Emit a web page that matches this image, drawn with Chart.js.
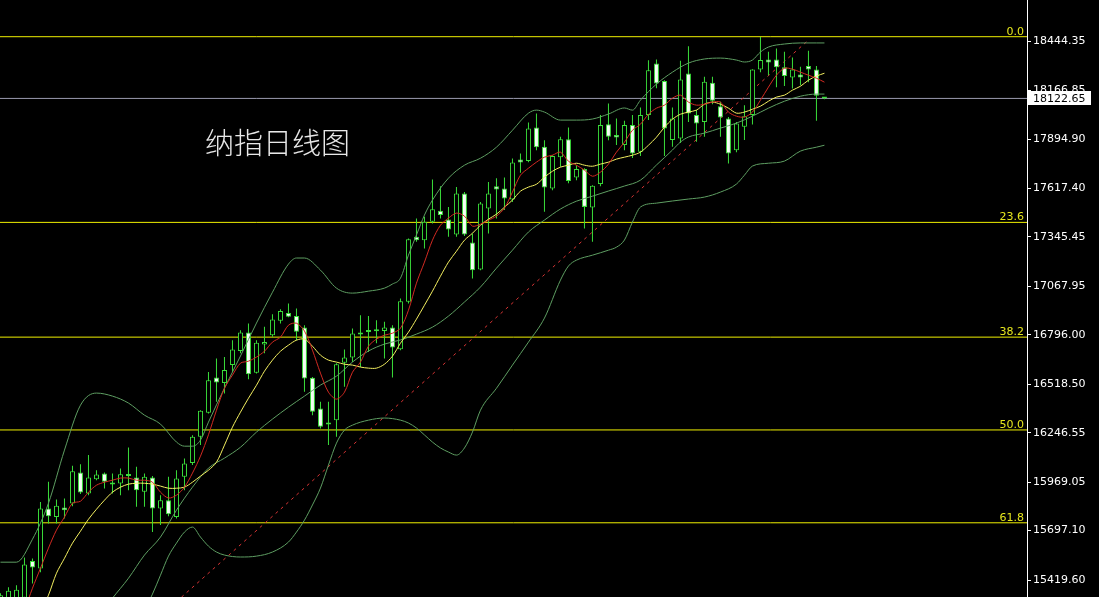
<!DOCTYPE html>
<html>
<head>
<meta charset="utf-8">
<script src="https://cdn.jsdelivr.net/npm/chart.js@4.4.1/dist/chart.umd.min.js"></script>
<style>
  html, body { margin: 0; padding: 0; background: #000; }
  #wrap { width: 1099px; height: 597px; }
</style>
</head>
<body>
<div id="wrap"><canvas id="nq" width="1099" height="597"></canvas></div>
<script>
// daily candles, index 0 = leftmost bar
var openP = [15300,15290,15300,15320,15527,15485,15821,15774,15827,15850,
  16023,15906,15986,16018,15956,15962,16003,15995,15915,15995,
  15821,15868,15774,15999,16076,16224,16358,16557,16526,16626,
  16705,16809,16583,16742,16794,16875,16919,16901,16837,16555,
  16383,16304,16317,16639,16669,16809,16812,16822,16818,16837,
  16715,16981,17346,17327,17430,17492,17443,17359,17589,17314,
  17163,17505,17630,17617,17556,17780,17772,17960,17851,17617,
  17792,17893,17679,17726,17511,17642,17978,17917,17861,17973,
  17823,18029,18319,18220,17889,17898,18263,18029,17991,18210,
  18079,18010,17832,17963,18029,18285,18341,18341,18297,18240,
  18257,18304,18285,18127];
var highP = [15345,15380,15390,15546,15541,15858,15971,15872,15878,16061,
  16070,16121,16036,16023,16018,16046,16164,16055,16018,16003,
  15896,15999,16036,16102,16233,16373,16588,16663,16672,16766,
  16822,16860,16766,16841,16912,16939,16972,16944,16850,16559,
  16420,16420,16636,16714,16832,16906,16901,16878,16869,16850,
  17000,17337,17449,17458,17668,17630,17514,17626,17597,17365,
  17542,17653,17674,17679,17786,17814,17988,18038,17888,17804,
  17907,17960,17748,17731,17636,18029,18094,18010,17997,18029,
  18072,18337,18341,18225,18072,18334,18416,18057,18244,18244,
  18104,18018,17991,18085,18287,18468,18384,18403,18384,18353,
  18300,18390,18304,18130];
var lowP = [15240,15250,15280,15300,15401,15464,15737,15737,15765,15834,
  15902,15896,15980,15934,15906,15896,15924,15831,15831,15690,
  15728,15778,15765,15924,16065,16177,16355,16420,16467,16588,
  16692,16546,16579,16692,16785,16860,16895,16766,16476,16345,
  16270,16177,16224,16504,16644,16616,16700,16748,16663,16557,
  16710,16972,17318,17281,17421,17449,17346,17346,17350,17112,
  17159,17365,17449,17496,17542,17705,17765,17832,17486,17608,
  17739,17647,17664,17393,17318,17630,17888,17861,17832,17788,
  17799,18001,18180,17799,17851,17872,17991,17879,17907,18090,
  17907,17758,17821,17889,17977,18270,18253,18186,18192,18179,
  18197,18214,17997,18118];
var closeP = [15335,15360,15365,15507,15490,15821,15778,15836,15812,16031,
  15911,15995,16012,15971,15962,16014,16008,15924,15999,15821,
  15868,15789,15990,16074,16224,16370,16541,16529,16598,16714,
  16809,16574,16751,16756,16882,16929,16897,16813,16551,16364,
  16280,16293,16631,16669,16804,16798,16818,16816,16837,16725,
  16985,17333,17327,17430,17500,17468,17387,17589,17359,17159,
  17533,17589,17612,17561,17763,17763,17954,17848,17623,17799,
  17893,17659,17726,17514,17632,17973,17907,17904,17973,17814,
  18029,18281,18207,17954,18010,18229,18038,17982,18216,18109,
  18016,17814,17982,18023,18285,18338,18324,18297,18248,18285,
  18240,18285,18137,18122.65];

// moving averages (one value per bar)
var redMA = [null,null,null,15250,15374,15486,15599,15700,15773,15851,
  15862,15913,15952,15969,15980,15992,15992,15980,15980,15969,
  15913,15880,15896,15941,16020,16115,16235,16373,16496,16570,
  16637,16648,16671,16704,16755,16783,16850,16861,16817,16710,
  16581,16474,16435,16474,16586,16643,16732,16772,16794,16805,
  16833,16934,17086,17204,17327,17411,17451,17479,17462,17406,
  17417,17439,17462,17507,17597,17692,17731,17765,17793,17804,
  17821,17770,17748,17720,17686,17709,17754,17821,17877,17944,
  17978,18034,18068,18085,18124,18141,18102,18085,18090,18102,
  18102,18046,18023,18018,18046,18113,18186,18253,18292,18287,
  18270,18253,18236,18214];
var yellowMA = [null,null,null,null,null,15240,15335,15458,15542,15627,
  15694,15761,15817,15868,15913,15941,15958,15963,15963,15958,
  15947,15935,15935,15941,15969,16003,16036,16081,16177,16278,
  16362,16440,16513,16592,16654,16704,16738,16766,16772,16732,
  16682,16654,16643,16631,16626,16615,16609,16609,16631,16676,
  16749,16811,16884,16962,17041,17125,17204,17265,17327,17366,
  17411,17445,17473,17512,17552,17602,17625,17641,17681,17714,
  17737,17748,17759,17748,17742,17754,17765,17782,17793,17804,
  17821,17860,17905,17961,18006,18034,18046,18057,18090,18102,
  18090,18068,18040,18046,18062,18079,18107,18130,18141,18169,
  18191,18225,18248,18264];

// bollinger bands, read at these bar indices
var upperIdx = [0,2,4,6,8,10,12,14,16,18,20,22,23,24,25,26,28,30,32,34,
  36,37,38,40,42,44,46,48,49,50,51,52,53,54,56,58,60,62,64,66,
  67,68,70,72,74,76,78,79,80,82,84,86,88,90,92,93,94,95,96,98,100,102,103];
var upperVal = [15520,15520,15649,15851,16149,16401,16469,16452,16413,16345,
  16295,16194,16171,16171,16205,16306,16497,16677,16862,17035,
  17193,17227,17227,17159,17058,17030,17041,17058,17081,17114,
  17243,17356,17468,17552,17675,17748,17787,17849,17944,18040,
  18057,18046,18001,18001,18007,18035,18069,18057,18113,18203,
  18270,18321,18344,18349,18338,18327,18338,18383,18411,18428,18434,18434,18434];
var middleIdx = [12,14,16,18,20,22,24,26,28,30,32,34,36,38,40,42,44,46,48,50,
  52,54,56,58,60,62,64,66,68,70,72,74,76,78,80,82,84,85,86,88,90,92,94,96,98,100,102,103];
var middleVal = [15200,15318,15430,15560,15661,15812,15941,16048,16104,16165,
  16250,16323,16390,16452,16514,16564,16643,16705,16744,16767,
  16800,16839,16901,16980,17064,17170,17271,17373,17440,17502,
  17546,17574,17603,17631,17664,17749,17833,17878,17906,17928,
  17956,17984,18023,18068,18107,18135,18147,18147];
var lowerIdx = [16,18,19,20,21,22,23,24,25,26,27,28,30,32,34,36,37,38,39,40,
  41,42,43,44,46,48,50,51,52,53,54,55,56,57,58,59,60,62,64,66,
  68,70,71,72,74,76,77,78,79,80,82,84,86,88,90,92,93,94,96,98,100,102,103];
var lowerVal = [15100,15251,15341,15447,15554,15627,15689,15717,15661,15610,
  15577,15560,15549,15554,15577,15633,15689,15756,15841,15936,
  16065,16188,16261,16289,16317,16329,16317,16301,16273,16234,
  16194,16161,16138,16121,16161,16250,16373,16496,16626,16755,
  16890,17103,17182,17215,17243,17271,17288,17328,17429,17513,
  17535,17547,17558,17569,17597,17642,17692,17743,17759,17771,17827,17849,17860];

var fibNames = ['0.0', '23.6', '38.2', '50.0', '61.8'];
var fibPrices = [18469, 17427, 16783, 16262, 15741];
var trendIdx = [20, 101];
var trendVal = [15219, 18450];
var lastPrice = 18122.65;
var yTicks = [18444.35, 18166.85, 17894.90, 17617.40, 17345.45, 17067.95,
  16796.00, 16518.50, 16246.55, 15969.05, 15697.10, 15419.60];
var chartTitle = '纳指日线图';

var GREEN = '#3ade3a';
var BAND = '#5e9e62';
var X_MIN = -0.06, X_MAX = 128.32;

function pts(idx, vals) {
  return idx.map(function(x, k) { return { x: x, y: vals[k] }; });
}
function perBar(vals) {
  var out = [];
  vals.forEach(function(v, i) { if (v !== null) out.push({ x: i, y: v }); });
  return out;
}
function band(data, order) {
  return { type: 'line', data: data, borderColor: BAND, borderWidth: 1, pointRadius: 0,
    cubicInterpolationMode: 'monotone', order: order };
}

var datasets = [
  { type: 'line', data: perBar(redMA), borderColor: '#d22a22', borderWidth: 1, pointRadius: 0, tension: 0.3, order: 0 },
  { type: 'line', data: perBar(yellowMA), borderColor: '#f4f060', borderWidth: 1, pointRadius: 0, tension: 0.3, order: 1 },
  band(pts(upperIdx, upperVal), 2),
  band(pts(middleIdx, middleVal), 2),
  band(pts(lowerIdx, lowerVal), 2),
  { type: 'bar',
    data: openP.map(function(o, i) { return { x: i, y: [o, closeP[i]] }; }),
    backgroundColor: openP.map(function(o, i) { return closeP[i] >= o ? '#000000' : '#f4fff4'; }),
    borderColor: GREEN, borderWidth: 1, borderSkipped: false, inflateAmount: 0,
    barThickness: 5, minBarLength: 2, grouped: false, order: 3 },
  { type: 'bar',
    data: highP.map(function(h, i) { return { x: i, y: [lowP[i], h] }; }),
    backgroundColor: GREEN, borderWidth: 0, inflateAmount: 0,
    barThickness: 1, grouped: false, order: 4 },
  { type: 'line', data: pts(trendIdx, trendVal), borderColor: '#d83434', borderWidth: 1,
    borderDash: [3, 4], pointRadius: 0, order: 5 },
  { type: 'line', data: [{ x: X_MIN, y: lastPrice }, { x: X_MAX, y: lastPrice }],
    borderColor: '#9a9aae', borderWidth: 1, pointRadius: 0, order: 6 }
];
fibPrices.forEach(function(p) {
  datasets.push({ type: 'line', data: [{ x: X_MIN, y: p }, { x: X_MAX, y: p }],
    borderColor: '#f0f000', borderWidth: 1, pointRadius: 0, order: 6 });
});

var overlay = {
  id: 'overlay',
  beforeDraw: function(c) {
    var ctx = c.ctx;
    ctx.save();
    ctx.fillStyle = '#000';
    ctx.fillRect(0, 0, c.width, c.height);
    ctx.restore();
  },
  afterDraw: function(c) {
    var ctx = c.ctx, ys = c.scales.y, area = c.chartArea;
    ctx.save();
    ctx.font = '11px "DejaVu Sans"';
    ctx.fillStyle = '#e6e61e';
    ctx.textAlign = 'right';
    ctx.textBaseline = 'alphabetic';
    fibPrices.forEach(function(p, k) {
      ctx.fillText(fibNames[k], area.right - 3, Math.round(ys.getPixelForValue(p)) - 2);
    });
    // current price tag
    var py = Math.round(ys.getPixelForValue(lastPrice));
    ctx.fillStyle = '#ffffff';
    ctx.fillRect(area.right, py - 7, 64, 14);
    ctx.fillStyle = '#000000';
    ctx.textAlign = 'left';
    ctx.textBaseline = 'middle';
    ctx.fillText(lastPrice.toFixed(2), area.right + 6, py + 1);
    // title
    ctx.font = '300 29px "Noto Sans CJK SC"';
    ctx.fillStyle = '#e8e8e8';
    ctx.fillText(chartTitle, 205, 143);
    ctx.restore();
  }
};

new Chart(document.getElementById('nq'), {
  data: { datasets: datasets },
  options: {
    responsive: false,
    animation: false,
    events: [],
    layout: { padding: 0 },
    plugins: { legend: { display: false }, tooltip: { enabled: false } },
    scales: {
      x: { type: 'linear', display: false, offset: false, min: X_MIN, max: X_MAX,
        grid: { offset: false } },
      y: {
        position: 'right',
        min: 15324.6,
        max: 18675,
        afterBuildTicks: function(s) { s.ticks = yTicks.map(function(v) { return { value: v }; }); },
        afterFit: function(s) { s.width = 72; s.paddingTop = 0; s.paddingBottom = 0; },
        grid: { drawOnChartArea: false, color: '#ffffff', tickLength: 4 },
        border: { display: true, color: '#ffffff', width: 1 },
        ticks: {
          color: '#ffffff',
          padding: 2,
          autoSkip: false,
          font: { family: 'DejaVu Sans', size: 11 },
          callback: function(v) { return Number(v).toFixed(2); }
        }
      }
    }
  },
  plugins: [overlay]
});
</script>
</body>
</html>
